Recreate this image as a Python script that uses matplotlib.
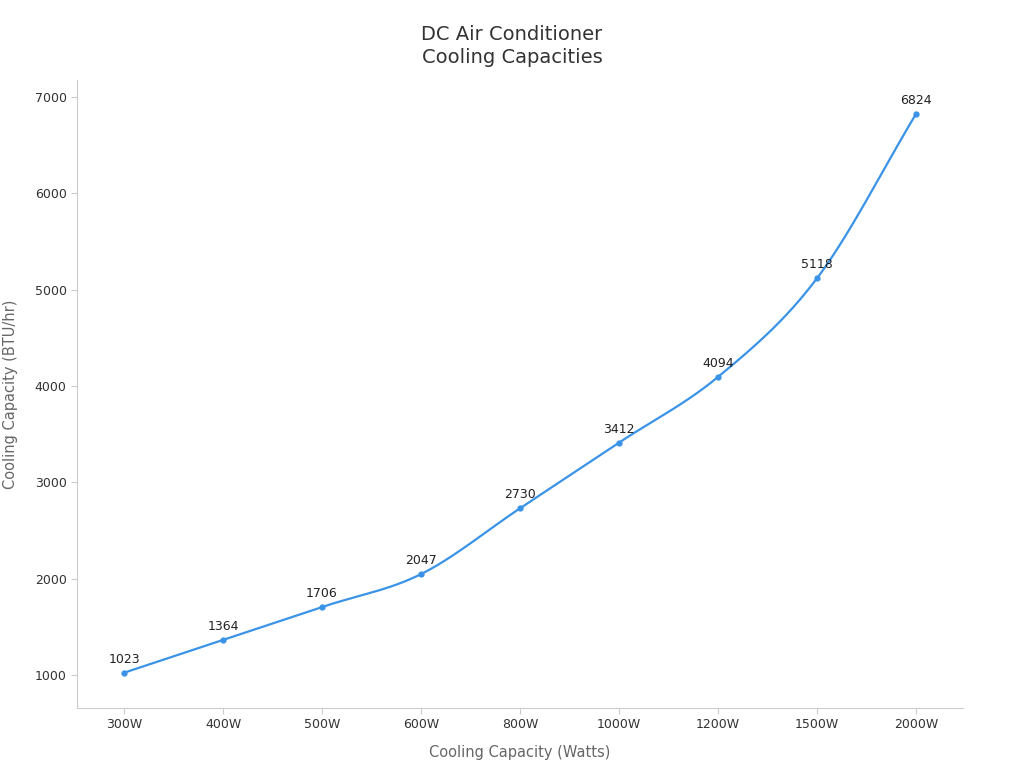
import matplotlib
matplotlib.use("Agg")
import matplotlib.pyplot as plt
import numpy as np

categories = ["300W", "400W", "500W", "600W", "800W", "1000W", "1200W", "1500W", "2000W"]
values = [1023, 1364, 1706, 2047, 2730, 3412, 4094, 5118, 6824]

fig = plt.figure(figsize=(10.24, 7.68), dpi=100)
ax = fig.add_axes([77/1024, 1-708/768, (963-77)/1024, (708-80)/768])
color = "#3a93e6"

x = np.arange(len(values), dtype=float)
y = np.array(values, dtype=float)
# smooth curve (cubic Hermite with Catmull-Rom-like tangents, scaled)
m = np.gradient(y, x)
xs, ys = [], []
for i in range(len(x) - 1):
    t = np.linspace(0, 1, 30)
    h00 = 2*t**3 - 3*t**2 + 1; h10 = t**3 - 2*t**2 + t
    h01 = -2*t**3 + 3*t**2; h11 = t**3 - t**2
    xs.append(x[i] + t)
    ys.append(h00*y[i] + h10*m[i] + h01*y[i+1] + h11*m[i+1])
ax.plot(np.concatenate(xs), np.concatenate(ys), color=color, lw=1.6)
ax.plot(x, y, "o", color=color, ms=3.5)
for xi, yi in zip(x, y):
    ax.annotate(f"{int(yi)}", (xi, yi), xytext=(0, 5), textcoords="offset points",
                ha="center", va="bottom", fontsize=9, color="#222222")

ax.set_xlim(-0.475, 8.475)
ax.set_ylim(657, 7177)
ax.set_xticks(x)
ax.set_xticklabels(categories)
ax.set_yticks([1000, 2000, 3000, 4000, 5000, 6000, 7000])
ax.tick_params(labelsize=9, colors="#333333", length=4, color="#cccccc")
for s in ["top", "right"]:
    ax.spines[s].set_visible(False)
for s in ["left", "bottom"]:
    ax.spines[s].set_color("#cccccc")
ax.set_xlabel("Cooling Capacity (Watts)", fontsize=10.5, color="#666666", labelpad=10)
ax.set_ylabel("Cooling Capacity (BTU/hr)", fontsize=10.5, color="#666666", labelpad=12)
fig.text(0.5, 1-46/768, "DC Air Conditioner\nCooling Capacities", ha="center", va="center",
         fontsize=14, color="#333333", linespacing=1.3)
fig.savefig("out.png", dpi=100)
